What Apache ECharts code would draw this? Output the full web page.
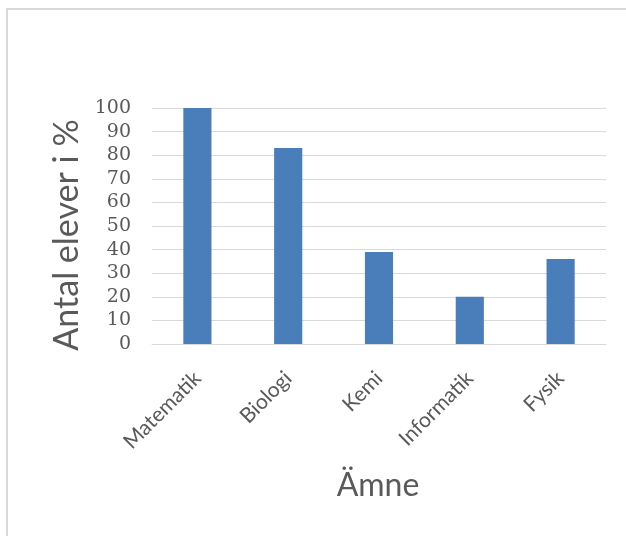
<!DOCTYPE html>
<html>
<head>
<meta charset="utf-8">
<script src="https://cdn.jsdelivr.net/npm/echarts@6/dist/echarts.min.js"></script>
<style>
html,body{margin:0;padding:0;background:#fff;}
#chart{width:626px;height:536px;}
</style>
</head>
<body>
<div id="chart"></div>
<script>
const categories = ['Matematik', 'Biologi', 'Kemi', 'Informatik', 'Fysik'];
const values = [100, 83, 39, 20, 36];
const yAxisTitle = 'Antal elever i %';
const xAxisTitle = 'Ämne';

const chart = echarts.init(document.getElementById('chart'), null, {renderer: 'canvas'});
chart.setOption({
  backgroundColor: '#ffffff',
  animation: false,
  grid: {left: 152, right: 20, top: 108, bottom: 192, containLabel: false},
  xAxis: {
    type: 'category',
    data: categories,
    axisLine: {show: true, lineStyle: {color: '#d9d9d9', width: 1}},
    axisTick: {show: false},
    axisLabel: {
      rotate: 45,
      interval: 0,
      margin: 31,
      color: '#595959',
      fontFamily: 'Lato',
      fontSize: 21
    }
  },
  yAxis: {
    type: 'value',
    min: 0,
    max: 100,
    interval: 10,
    axisLine: {show: false},
    axisTick: {show: false},
    splitLine: {lineStyle: {color: '#d9d9d9', width: 1}},
    axisLabel: {
      margin: 21,
      color: '#595959',
      fontFamily: 'DejaVu Serif',
      fontSize: 19
    }
  },
  series: [{
    type: 'bar',
    data: values,
    barWidth: '31%',
    itemStyle: {color: '#4a7ebb'}
  }],
  graphic: [
    {
      type: 'rect',
      silent: true,
      shape: {x: 7, y: 9, width: 700, height: 600},
      style: {fill: 'none', stroke: '#d9d9d9', lineWidth: 2}
    },
    {
      type: 'text',
      silent: true,
      x: 67, y: 235,
      rotation: Math.PI / 2,
      style: {
        text: yAxisTitle,
        fontFamily: 'Lato',
        fontSize: 34,
        fill: '#595959',
        align: 'center',
        verticalAlign: 'middle'
      }
    },
    {
      type: 'text',
      silent: true,
      x: 378, y: 486,
      style: {
        text: xAxisTitle,
        fontFamily: 'Lato',
        fontSize: 32,
        fill: '#595959',
        align: 'center',
        verticalAlign: 'middle'
      }
    }
  ]
});
</script>
</body>
</html>
